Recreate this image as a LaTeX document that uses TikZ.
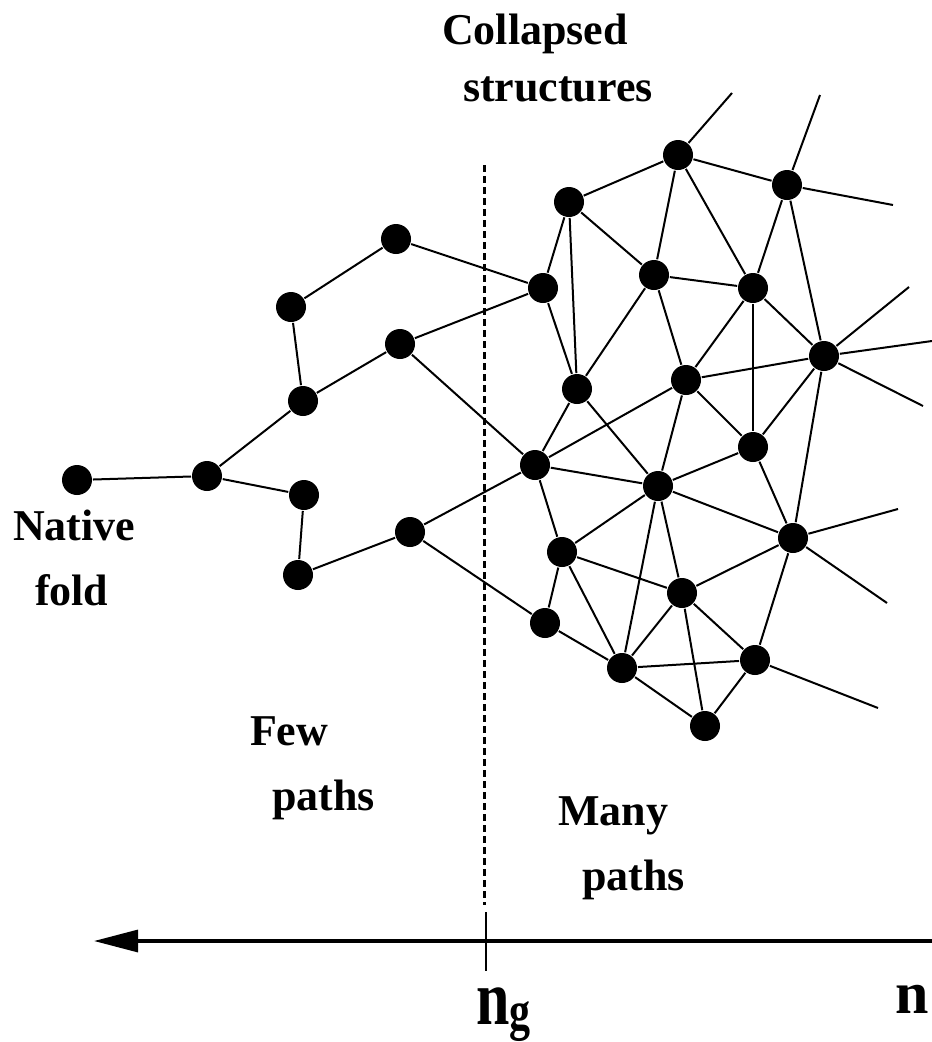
\documentclass[tikz,border=0pt]{standalone}
\usepackage{fontspec}
\setmainfont{Liberation Serif}
\usetikzlibrary{arrows.meta}
\tikzset{
  bead/.style={circle, fill=black, minimum size=30pt, inner sep=0pt},
  wordlabel/.style={font=\bfseries\fontsize{44}{65}\selectfont, align=left, anchor=north west, inner sep=0pt},
}

\begin{document}
\begin{tikzpicture}[x=1pt, y=-1pt, line width=2pt]
    \useasboundingbox (0,0) rectangle (932,1042);

    % Draw the chain near the native fold
    \foreach \name/\x/\y in {n1/77/480, n2/207/476, n3/304/495, n4/298/575, n5/410/532,
                             n6/303/401, n7/291/307, n8/396/239, n9/400/344} {
        \node[bead] (\name) at (\x,\y) {};
    }

    % Draw the collapsed network
    \foreach \name/\x/\y in {a/543/288, b/678/155, c/569/202, d/787/185, e/654/275,
                             f/753/288, g/824/356, h/577/389, i/686/380, j/535/465,
                             k/753/447, l/658/486, m/562/552, nn/793/538, o/682/593,
                             p/545/623, q/622/668, r/755/660, s/705/726} {
        \node[bead] (\name) at (\x,\y) {};
    }

    % Loose ends running out of the picture
    \foreach \name/\x/\y in {bx/732/93, dx/820/95, dy/893/205, gx/909/287, gy/932/341,
                             gz/923/406, nx/898/509, ny/887/603, rx/878/708} {
        \coordinate (\name) at (\x,\y);
    }

    % Draw the bonds
    \foreach \p/\q in {n1/n2, n2/n6, n2/n3, n3/n4, n4/n5, n6/n7, n7/n8, n6/n9,
                       n8/a, n9/a, n9/j, n5/j, n5/p,
                       b/c, b/d, b/e, b/f, d/f, d/g, c/a, c/h, c/e, a/h, e/f, e/h, e/i,
                       f/i, f/g, f/k, g/i, g/k, g/nn, h/j, h/l, i/j, i/l, i/k, j/l, j/m,
                       l/k, l/nn, l/m, l/q, l/o, k/nn, nn/o, nn/r, m/o, m/p, m/q, o/q,
                       o/s, o/r, p/q, q/r, q/s, r/s,
                       b/bx, d/dx, d/dy, g/gx, g/gy, g/gz, nn/nx, nn/ny, r/rx} {
        \draw (\p) -- (\q);
    }

    % Dividing line at n_g
    \coordinate (split top) at (484,165);
    \coordinate (split low) at (484,905);
    \draw[line width=3pt, dash pattern=on 7pt off 4pt] (split top) -- (split low);

    % Draw the axis
    \coordinate (axis right) at (932,941);
    \coordinate (axis left) at (94,941);
    \draw[line width=3.2pt, -{Triangle[length=44pt, width=22pt]}] (axis right) -- (axis left);
    \coordinate (tick top) at (486,912);
    \coordinate (tick low) at (486,971);
    \draw[line width=2.2pt] (tick top) -- (tick low);

    % Add labels
    \node[wordlabel, font=\bfseries\fontsize{44}{57}\selectfont] (collapsed) at (441,13)
        {Collapsed\\\hspace*{21pt}structures};
    \node[wordlabel] (native) at (12,509) {Native\\\hspace*{22pt}fold};
    \node[wordlabel] (few) at (249,716) {Few\\\hspace*{22pt}paths};
    \node[wordlabel] (many) at (557,796) {Many\\\hspace*{24pt}paths};
    \node[anchor=base west, inner sep=0pt, font=\bfseries\fontsize{60}{60}\selectfont] (nglab) at (475,1024)
        {\scalebox{1}[1.3]{n\raisebox{-4pt}{\fontsize{42}{42}\selectfont g}}};
    \node[anchor=base west, inner sep=0pt, font=\bfseries\fontsize{60}{60}\selectfont] (nlab) at (894,1013) {n};
\end{tikzpicture}
\end{document}
